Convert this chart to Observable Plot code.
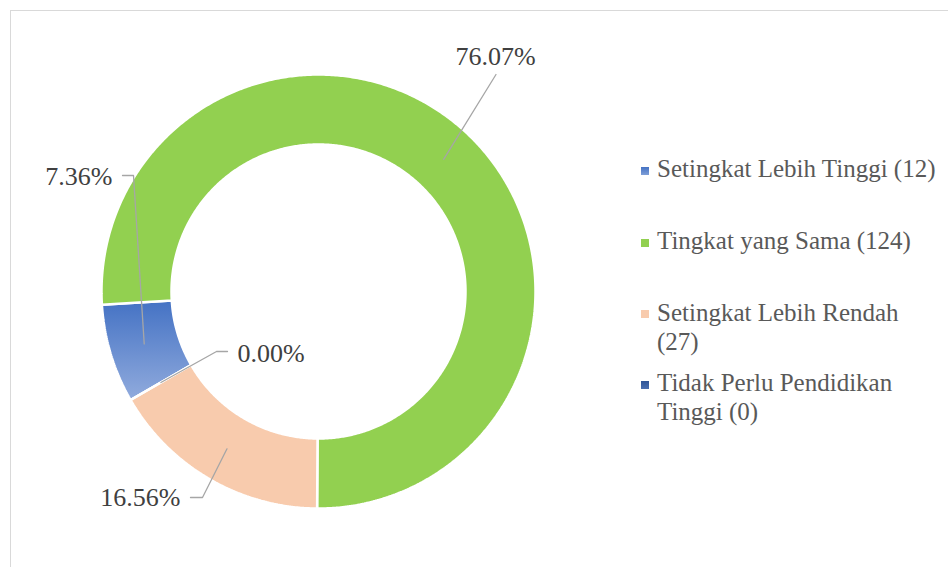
<!DOCTYPE html>
<html>
<head>
<meta charset="utf-8">
<script src="https://cdn.jsdelivr.net/npm/d3@7"></script>
<script src="https://cdn.jsdelivr.net/npm/@observablehq/plot@0.6"></script>
<style>
  body { margin: 0; background: #fff; }
  #wrap { position: relative; width: 948px; height: 567px; overflow: hidden; background: #fff; font-family: "Liberation Serif", serif; }
  #frame { position: absolute; left: 10px; top: 10px; width: 1400px; height: 1400px; border: 1px solid #d9d9d9; box-sizing: border-box; }
  #chart { position: absolute; left: 0; top: 0; }
  .lg-sw { position: absolute; width: 8px; height: 8px; }
  .lg-tx { position: absolute; font-size: 25px; line-height: 28.5px; color: #595959; white-space: nowrap; }
</style>
</head>
<body>
<svg width="0" height="0" style="position:absolute">
  <defs>
    <linearGradient id="gBlue" x1="0" y1="0" x2="0" y2="1">
      <stop offset="0" stop-color="#4472C4"/>
      <stop offset="1" stop-color="#91ABDD"/>
    </linearGradient>
    <linearGradient id="gBlueSw" x1="0" y1="0" x2="0" y2="1">
      <stop offset="0" stop-color="#4472C4"/>
      <stop offset="1" stop-color="#7F9FD8"/>
    </linearGradient>
    <linearGradient id="gNavy" x1="0" y1="0" x2="0" y2="1">
      <stop offset="0" stop-color="#2F5597"/>
      <stop offset="1" stop-color="#4A6FB0"/>
    </linearGradient>
  </defs>
</svg>
<div id="wrap">
  <div id="frame"></div>
  <div id="chart"></div>
  <div id="legend"></div>
</div>
<script>
// ---- data ----
const categories = ["Setingkat Lebih Tinggi", "Tingkat yang Sama", "Setingkat Lebih Rendah", "Tidak Perlu Pendidikan Tinggi"];
const counts = [12, 124, 27, 0];
const legendLines = [["Setingkat Lebih Tinggi (12)"], ["Tingkat yang Sama (124)"], ["Setingkat Lebih Rendah", "(27)"], ["Tidak Perlu Pendidikan", "Tinggi (0)"]];

// ---- styles / layout ----
const sliceColors = ["url(#gBlue)", "#92D050", "#F8CBAD", "#2F5597"];
const swatchColors = ["url(#gBlueSw)", "#92D050", "#F8CBAD", "url(#gNavy)"];
const W = 948, H = 567, CX = 318, CY = 291;
const R_OUT = 217, R_IN = 147, R_MID = 182, START = 240;
// label placements relative to the donut centre (pixels)
const labelLayout = [
  { text: [-206, -115], anchor: "end",    path: [[-185, -116], [-196, -116]] },
  { text: [177, -235],  anchor: "middle", path: [[177.5, -217]] },
  { text: [-138, 206],  anchor: "end",    path: [[-116, 206], [-128, 206]] },
  { text: [-81, 62],    anchor: "start",  path: [[-102, 60], [-91, 60]] }
];
const legendBaselines = [178, 250, 321.7, 392];

// ---- geometry from data ----
const total = d3.sum(counts);
const pct = counts.map(c => (c / total * 100).toFixed(2) + "%");
const toXY = (r, deg) => { const a = deg * Math.PI / 180; return [r * Math.sin(a), -r * Math.cos(a)]; };

let acc = START;
const slices = counts.map((c, i) => {
  const a0 = acc, a1 = acc + c / total * 360; acc = a1;
  return { key: categories[i], a0, a1, mid: (a0 + a1) / 2 };
});

const ringPts = [];
slices.forEach(s => {
  const n = Math.max(2, Math.ceil((s.a1 - s.a0) / 0.5));
  for (let i = 0; i <= n; i++) { const [x, y] = toXY(R_OUT, s.a0 + (s.a1 - s.a0) * i / n); ringPts.push({ key: s.key, x, y }); }
  for (let i = n; i >= 0; i--) { const [x, y] = toXY(R_IN, s.a0 + (s.a1 - s.a0) * i / n); ringPts.push({ key: s.key, x, y }); }
});

const leaderPts = [];
const labels = [];
slices.forEach((s, i) => {
  const [x0, y0] = toXY(R_MID, s.mid);
  leaderPts.push({ key: s.key, x: x0, y: y0 });
  labelLayout[i].path.forEach(([x, y]) => leaderPts.push({ key: s.key, x, y }));
  labels.push({ key: s.key, text: pct[i], x: labelLayout[i].text[0], y: labelLayout[i].text[1], anchor: labelLayout[i].anchor });
});

const chart = Plot.plot({
  width: W, height: H,
  margin: 0,
  x: { domain: [-CX, W - CX], range: [0, W], axis: null },
  y: { domain: [-CY, H - CY], range: [0, H], axis: null },
  color: { domain: categories, range: sliceColors },
  style: { background: "transparent", overflow: "visible" },
  marks: [
    Plot.line(ringPts, { x: "x", y: "y", z: "key", fill: "key", stroke: "white", strokeWidth: 2.5, curve: "linear-closed", strokeLinejoin: "miter" }),
    Plot.line(leaderPts, { x: "x", y: "y", z: "key", stroke: "#a6a6a6", strokeWidth: 1.3, fill: "none" }),
    ...["start", "middle", "end"].map(a =>
      Plot.text(labels.filter(d => d.anchor === a), { x: "x", y: "y", text: "text", textAnchor: a, fontSize: 26, fontFamily: "Liberation Serif", fill: "#404040" }))
  ]
});
document.getElementById("chart").appendChild(chart);

// ---- legend ----
const lg = document.getElementById("legend");
categories.forEach((c, i) => {
  const b = legendBaselines[i];
  const sw = document.createElement("div");
  sw.className = "lg-sw";
  sw.style.left = "641px"; sw.style.top = (b - 11.5) + "px";
  sw.innerHTML = `<svg width="8" height="8" style="display:block"><rect width="8" height="8" fill="${swatchColors[i]}"/></svg>`;
  lg.appendChild(sw);
  const tx = document.createElement("div");
  tx.className = "lg-tx";
  tx.style.left = "657px"; tx.style.top = (b - 22.7) + "px";
  tx.innerHTML = legendLines[i].join("<br>");
  lg.appendChild(tx);
});
</script>
</body>
</html>
